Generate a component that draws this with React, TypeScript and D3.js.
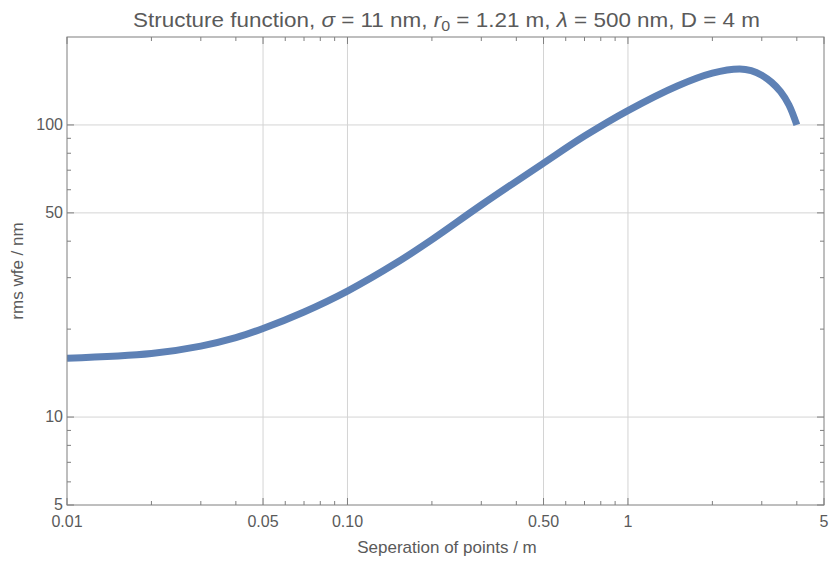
import React from "react";
import * as d3 from "d3";

const separation = [0.01, 0.02, 0.03, 0.04, 0.05, 0.07, 0.1, 0.15, 0.2, 0.3, 0.5, 0.7, 1, 1.5, 2, 2.5, 2.75, 3, 3.25, 3.5, 3.75, 4];
const rmsWfe = [15.9, 16.5, 17.5, 18.7, 20.1, 22.9, 27.0, 33.8, 40.5, 53.2, 74, 91.6, 112, 136, 150.5, 155.5, 153.5, 148, 140, 130, 117, 100];

const xMajor = [0.01, 0.05, 0.1, 0.5, 1, 5];
const xMajorLabels = ["0.01", "0.05", "0.10", "0.50", "1", "5"];
const xGrid = [0.05, 0.1, 0.5, 1];
const xMinor = [0.02, 0.03, 0.04, 0.06, 0.07, 0.08, 0.09, 0.2, 0.3, 0.4, 0.6, 0.7, 0.8, 0.9, 2, 3, 4];
const yMajor = [5, 10, 50, 100];
const yMajorLabels = ["5", "10", "50", "100"];
const yGrid = [10, 50, 100];
const yMinor = [6, 7, 8, 9, 20, 30, 40, 60, 70, 80, 90];

const W = 830, H = 561;
const L = 67, R = 824, T = 37, B = 505;
const textColor = "#5a5a5a";
const frameColor = "#7f7f7f";
const gridColor = "#d4d4d4";
const lineColor = "#5e81b5";
const font = "'Liberation Sans', Arial, sans-serif";

export default function App() {
  const x = d3.scaleLog().domain([0.01, 5]).range([L, R]);
  const y = d3.scaleLog().domain([5, 200]).range([B, T]);
  const pts = separation.map((s, i) => [s, rmsWfe[i]] as [number, number]);
  const line = d3.line<[number, number]>().x(d => x(d[0])).y(d => y(d[1])).curve(d3.curveCatmullRom.alpha(0.5));
  const maj = 7, min = 4;
  return (
    <svg width={W} height={H} style={{ position: "absolute", left: 0, top: 0, background: "#fff" }} fontFamily={font}>
      <defs>
        <clipPath id="plot"><rect x={L} y={T} width={R - L} height={B - T} /></clipPath>
      </defs>
      {xGrid.map(v => <line key={"xg" + v} x1={x(v)} x2={x(v)} y1={T} y2={B} stroke={gridColor} strokeWidth={1} />)}
      {yGrid.map(v => <line key={"yg" + v} x1={L} x2={R} y1={y(v)} y2={y(v)} stroke={gridColor} strokeWidth={1} />)}
      <path d={line(pts) || ""} fill="none" stroke={lineColor} strokeWidth={7} clipPath="url(#plot)" />
      <rect x={L} y={T} width={R - L} height={B - T} fill="none" stroke={frameColor} strokeWidth={1} />
      {xMajor.map(v => (
        <g key={"xm" + v}>
          <line x1={x(v)} x2={x(v)} y1={B} y2={B - maj} stroke={frameColor} />
          <line x1={x(v)} x2={x(v)} y1={T} y2={T + maj} stroke={frameColor} />
        </g>
      ))}
      {xMinor.map(v => (
        <g key={"xn" + v}>
          <line x1={x(v)} x2={x(v)} y1={B} y2={B - min} stroke={frameColor} />
          <line x1={x(v)} x2={x(v)} y1={T} y2={T + min} stroke={frameColor} />
        </g>
      ))}
      {yMajor.map(v => (
        <g key={"ym" + v}>
          <line x1={L} x2={L + maj} y1={y(v)} y2={y(v)} stroke={frameColor} />
          <line x1={R} x2={R - maj} y1={y(v)} y2={y(v)} stroke={frameColor} />
        </g>
      ))}
      {yMinor.map(v => (
        <g key={"yn" + v}>
          <line x1={L} x2={L + min} y1={y(v)} y2={y(v)} stroke={frameColor} />
          <line x1={R} x2={R - min} y1={y(v)} y2={y(v)} stroke={frameColor} />
        </g>
      ))}
      {xMajor.map((v, i) => (
        <text key={"xl" + v} x={x(v)} y={B + 22} textAnchor="middle" fontSize={16} fill={textColor}>{xMajorLabels[i]}</text>
      ))}
      {yMajor.map((v, i) => (
        <text key={"yl" + v} x={L - 4} y={y(v) + 5} textAnchor="end" fontSize={16} fill={textColor}>{yMajorLabels[i]}</text>
      ))}
      <text x={447} y={553} textAnchor="middle" fontSize={17} fill={textColor}>Seperation of points / m</text>
      <text transform={`translate(23,${(T + B) / 2}) rotate(-90)`} textAnchor="middle" fontSize={17} fill={textColor}>rms wfe / nm</text>
      <text x={446.5} y={27} textAnchor="middle" fontSize={21} fill={textColor} textLength={627} lengthAdjust="spacingAndGlyphs">
        Structure function, <tspan fontStyle="italic">σ</tspan> = 11 nm, <tspan fontStyle="italic">r</tspan><tspan fontSize={15} dy={4}>0</tspan><tspan dy={-4}> = 1.21 m, </tspan><tspan fontStyle="italic">λ</tspan> = 500 nm, D = 4 m
      </text>
    </svg>
  );
}
